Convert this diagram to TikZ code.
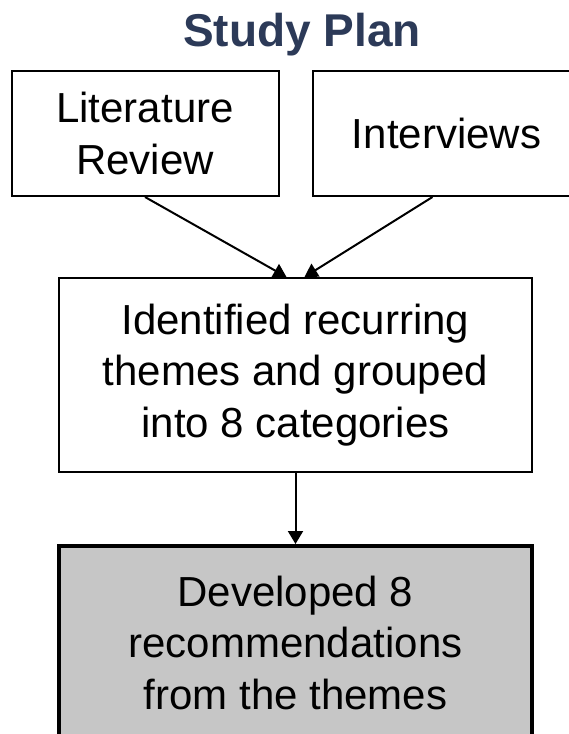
\documentclass[tikz,border=0pt]{standalone}
\usepackage{fontspec}
\setmainfont{Liberation Sans}
\usetikzlibrary{arrows.meta,calc}
\definecolor{titleblue}{HTML}{2C3A58}
\definecolor{panelgray}{HTML}{C6C6C6}
\begin{document}
\begin{tikzpicture}[x=1pt,y=-1pt,
  box/.style={draw=black,line width=2pt,rectangle,inner sep=0pt,align=center,
    font=\fontsize{42}{51.5}\selectfont},
  flow/.style={draw=black,line width=2pt,-{Triangle[length=13pt,width=15pt]}}]
\useasboundingbox (0,0) rectangle (569,734);
% title
\node[font=\bfseries\fontsize{46}{50}\selectfont,text=titleblue,anchor=base]
  (title) at (302,46) {Study Plan};
% sources
\node[box,minimum width=267pt,minimum height=125pt] (lit) at (145,133.5) {Literature\\Review};
\node[box,minimum width=267pt,minimum height=125pt] (intv) at (446.5,133.5) {Interviews};
% analysis
\node[box,minimum width=473pt,minimum height=194pt] (themes) at (295.5,375)
  {Identified recurring\\themes and grouped\\into 8 categories};
% outcome
\node[box,line width=4pt,fill=panelgray,minimum width=473pt,minimum height=193pt] (recs) at (295.5,642.5)
  {Developed 8\\recommendations\\from the themes};
% connectors
\draw[flow] (lit.south) -- ($(themes.north)+(-9,0)$);
\draw[flow] ($(intv.south)+(-14,0)$) -- ($(themes.north)+(9,0)$);
\draw[flow] (themes.south) -- (recs.north);
\end{tikzpicture}
\end{document}
